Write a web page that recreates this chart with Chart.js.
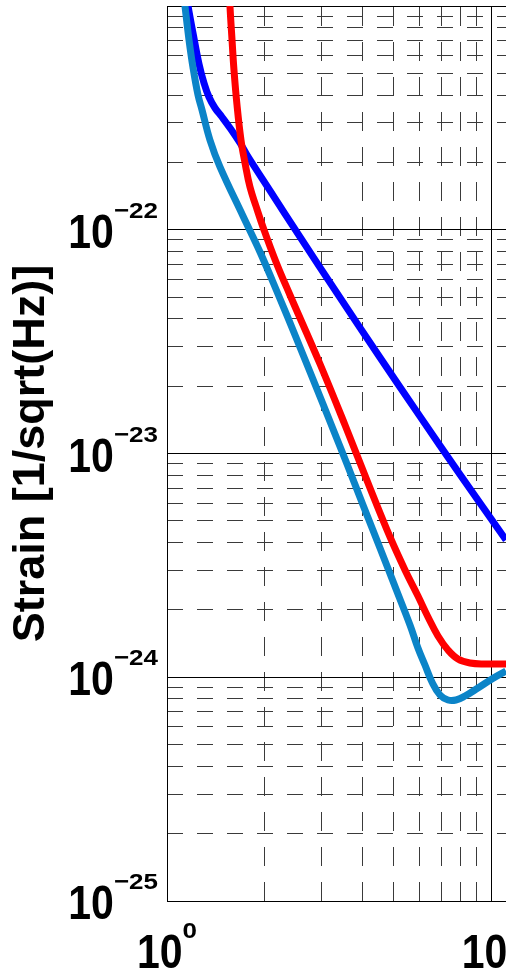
<!DOCTYPE html>
<html>
<head>
<meta charset="utf-8">
<script src="https://cdn.jsdelivr.net/npm/chart.js@4.4.1/dist/chart.umd.min.js"></script>
<style>
  html, body { margin: 0; padding: 0; background: #fff; }
  #wrap { width: 506px; height: 970px; position: relative; overflow: hidden; }
</style>
</head>
<body>
<div id="wrap"><canvas id="chart"></canvas></div>
<script>
// values: frequency [Hz] and strain [1/sqrt(Hz)]
const blueFreq   = [1.128, 1.161, 1.2024, 1.2548, 1.2999, 1.3468, 1.4054, 1.4768, 1.5635, 1.6787, 1.7637, 2.076, 2.568, 3.411, 4.529, 6.014, 7.987, 11.07];
const blueStrain = [1.31e-21, 1.0e-21, 7.575e-22, 5.506e-22, 4.528e-22, 3.920e-22, 3.501e-22, 3.191e-22, 2.849e-22, 2.442e-22, 2.158e-22, 1.495e-22, 9.291e-23, 4.970e-23, 2.686e-23, 1.465e-23, 8.058e-24, 4.106e-24];

const redFreq   = [1.552, 1.563, 1.586, 1.608, 1.643, 1.690, 1.739, 1.801, 1.879, 1.975, 2.166, 2.392, 2.960, 3.534, 4.219, 4.862, 5.407, 5.929, 6.366, 6.833, 7.335, 7.874, 8.573, 9.536, 11.07];
const redStrain = [1.31e-21, 1.0e-21, 7.05e-22, 5.18e-22, 3.61e-22, 2.52e-22, 1.988e-22, 1.553e-22, 1.277e-22, 1.029e-22, 7.176e-23, 5.110e-23, 2.512e-23, 1.341e-23, 7.012e-24, 4.235e-24, 3.016e-24, 2.307e-24, 1.859e-24, 1.529e-24, 1.324e-24, 1.207e-24, 1.158e-24, 1.146e-24, 1.146e-24];

const cyanFreq   = [1.112, 1.136, 1.169, 1.202, 1.246, 1.282, 1.356, 1.456, 1.714, 1.934, 2.197, 2.515, 3.023, 3.245, 3.584, 4.015, 4.529, 5.074, 5.603, 5.929, 6.231, 6.548, 6.931, 7.335, 7.762, 8.276, 9.076, 10.02, 11.07];
const cyanStrain = [1.31e-21, 1.0e-21, 7.05e-22, 5.33e-22, 4.0e-22, 3.43e-22, 2.52e-22, 1.91e-22, 1.152e-22, 7.955e-23, 5.163e-23, 3.216e-23, 1.664e-23, 1.287e-23, 8.975e-24, 5.886e-24, 3.782e-24, 2.480e-24, 1.712e-24, 1.351e-24, 1.134e-24, 9.523e-25, 8.329e-25, 7.911e-25, 7.911e-25, 8.244e-25, 8.952e-25, 9.822e-25, 1.066e-24];

const xMajorTicks = [1, 10];
const xMinorTicks = [2, 3, 4, 5, 6, 7, 8, 9];
const yMajorTicks = [1e-25, 1e-24, 1e-23, 1e-22, 1e-21];
const yMinorMant  = [2, 3, 4, 5, 6, 7, 8, 9];
const yDecades    = [-25, -24, -23, -22];
const yMinorTicks = [];
yDecades.forEach(e => yMinorMant.forEach(m => yMinorTicks.push(m * Math.pow(10, e))));

const xMin = 1, xMax = 11.07;
const yMin = 1e-25, yMax = 1e-21;

const FONT = "'Liberation Sans', Arial, sans-serif";
const BASE_FONT = `bold 41px ${FONT}`;
const EXP_FONT  = `bold 26px ${FONT}`;

const pts = (f, s) => f.map((x, i) => ({ x, y: s[i] }));
const setTicks = arr => s => { s.ticks = arr.map(v => ({ value: v })); };
const expText = v => String(Math.round(Math.log10(v))).replace('-', '\u2212');

// "10" with a raised exponent, drawn like the MATLAB labels (slightly tall glyphs)
function powWidth(ctx, e) {
  ctx.font = BASE_FONT; const wb = ctx.measureText('10').width;
  ctx.font = EXP_FONT;  const we = ctx.measureText(e).width;
  return { wb, we, total: wb + we };
}
function drawPow(ctx, e, xLeft, baseline) {
  const m = powWidth(ctx, e);
  ctx.save();
  ctx.fillStyle = '#000'; ctx.textAlign = 'left'; ctx.textBaseline = 'alphabetic';
  ctx.font = BASE_FONT;
  ctx.translate(xLeft, baseline); ctx.scale(1, 1.15);
  ctx.fillText('10', 0, 0);
  ctx.restore();
  ctx.save();
  ctx.fillStyle = '#000'; ctx.textAlign = 'left'; ctx.textBaseline = 'alphabetic';
  ctx.font = EXP_FONT;
  ctx.translate(xLeft + m.wb, baseline - 30); ctx.scale(1, 0.88);
  ctx.fillText(e, 0, 0);
  ctx.restore();
}

const powerLabels = {
  id: 'powerLabels',
  afterDraw(chart) {
    const ctx = chart.ctx;
    const ys = chart.scales.y, xs = chart.scales.x;
    ys.ticks.forEach(t => {
      if (Math.round(Math.log10(t.value)) === -21) return;
      const e = expText(t.value);
      const py = ys.getPixelForValue(t.value);
      drawPow(ctx, e, ys.right - 9 - powWidth(ctx, e).total, py + 18);
    });
    xs.ticks.forEach(t => {
      const e = expText(t.value);
      const px = xs.getPixelForValue(t.value);
      drawPow(ctx, e, px - powWidth(ctx, e).total / 2, xs.top + 67);
    });
  }
};

const line = (data, color) => ({
  data, borderColor: color, borderWidth: 7, pointRadius: 0, fill: false,
  tension: 0.4, clip: 0
});

new Chart(document.getElementById('chart'), {
  type: 'line',
  data: {
    datasets: [
      line(pts(redFreq, redStrain), '#ff0000'),
      line(pts(cyanFreq, cyanStrain), '#0b84c8'),
      line(pts(blueFreq, blueStrain), '#0000ff')
    ]
  },
  plugins: [powerLabels],
  options: {
    responsive: true, maintainAspectRatio: false, animation: false,
    layout: { padding: { top: 6, right: 0, bottom: 0, left: 0 } },
    plugins: { legend: { display: false }, tooltip: { enabled: false } },
    scales: {
      x: {
        type: 'logarithmic', position: 'bottom', min: xMin, max: xMax,
        afterBuildTicks: setTicks(xMajorTicks),
        afterFit: s => { s.height = 69; s.paddingLeft = 0; s.paddingRight = 0; },
        grid: { color: '#000', lineWidth: 1, drawTicks: false },
        border: { display: true, color: '#000', width: 1 },
        ticks: { display: false }
      },
      xMinor: {
        type: 'logarithmic', position: 'bottom', min: xMin, max: xMax,
        afterBuildTicks: setTicks(xMinorTicks),
        afterFit: s => { s.height = 0; s.paddingLeft = 0; s.paddingRight = 0; },
        grid: { color: '#3a3a3a', lineWidth: 1, drawTicks: false },
        border: { display: false, dash: [19, 16], dashOffset: 34 },
        ticks: { display: false }
      },
      y: {
        type: 'logarithmic', position: 'left', min: yMin, max: yMax,
        afterBuildTicks: setTicks(yMajorTicks),
        afterFit: s => { s.width = 167; s.paddingTop = 0; s.paddingBottom = 0; },
        grid: { color: '#000', lineWidth: 1, drawTicks: false },
        border: { display: true, color: '#000', width: 1 },
        ticks: { display: false },
        title: {
          display: true, text: 'Strain [1/sqrt(Hz)]', color: '#000',
          font: { family: FONT, size: 45, weight: 'bold' },
          padding: { top: 5, bottom: 0 }
        }
      },
      yMinor: {
        type: 'logarithmic', position: 'left', min: yMin, max: yMax,
        afterBuildTicks: setTicks(yMinorTicks),
        afterFit: s => { s.width = 0; s.paddingTop = 0; s.paddingBottom = 0; },
        grid: { color: '#3a3a3a', lineWidth: 1, drawTicks: false },
        border: { display: false, dash: [16, 14] },
        ticks: { display: false }
      }
    }
  }
});
</script>
</body>
</html>
